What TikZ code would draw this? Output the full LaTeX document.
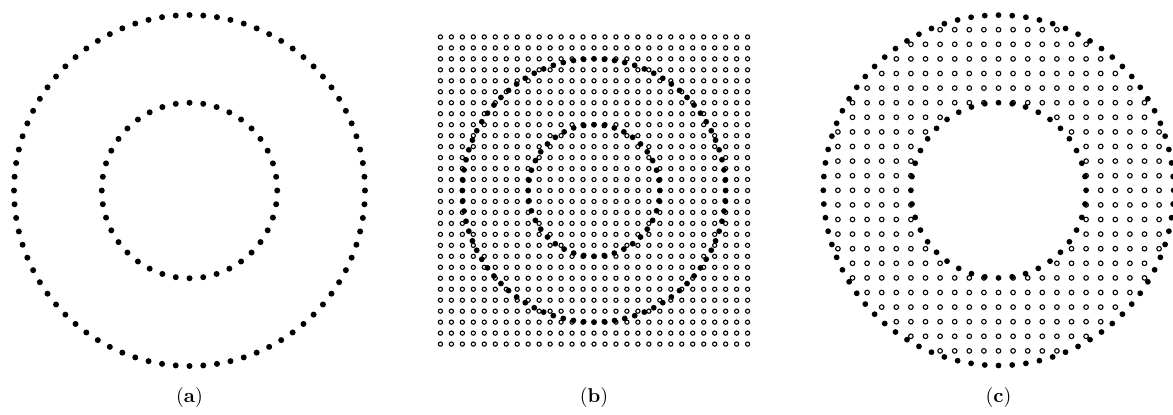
\documentclass[tikz,border=0pt]{standalone}
\usepackage{tikz}
\usetikzlibrary{calc}
\tikzset{
  ringdot/.style={fill=black},
  griddot/.style={draw=black, fill=white, line width=0.55pt}
}
\begin{document}
\begin{tikzpicture}[x=0.5pt, y=0.5pt]
        \useasboundingbox (0,0) rectangle (1173,414);
        % Centres of the three panels
        \coordinate (A) at (189.5, 223.5);
        \coordinate (B) at (594, 223.5);
        \coordinate (C) at (998.5, 223.7);
        % (a) outer and inner boundary rings
        \foreach \k in {1,...,80}
          \fill[ringdot] ($(A)+(\k*4.5:175.5)$) circle (1.5pt);
        \foreach \k in {1,...,40}
          \fill[ringdot] ($(A)+(\k*9:87.75)$) circle (1.5pt);
        % (b) background grid, h = R/12
        \foreach \i in {-14,...,14}
          \foreach \j in {-14,...,14}
            \draw[griddot] ($(B)+(\i*10.97,\j*10.97)$) circle (1.05pt);
        % (b) rings laid over the grid
        \foreach \k in {1,...,80}
          \fill[ringdot] ($(B)+(\k*4.5:131.6)$) circle (1.45pt);
        \foreach \k in {1,...,40}
          \fill[ringdot] ($(B)+(\k*9:65.8)$) circle (1.45pt);
        % (c) grid points strictly inside the annulus
        \foreach \i in {-11,...,11}
          \foreach \j in {-11,...,11}{
            \pgfmathsetmacro\dd{\i*\i+\j*\j}
            \ifdim\dd pt>36pt \ifdim\dd pt<144pt
              \draw[griddot] ($(C)+(\i*14.6,\j*14.6)$) circle (1.15pt);
            \fi\fi
          }
        % (c) boundary rings
        \foreach \k in {1,...,80}
          \fill[ringdot] ($(C)+(\k*4.5:175.2)$) circle (1.45pt);
        \foreach \k in {1,...,40}
          \fill[ringdot] ($(C)+(\k*9:87.6)$) circle (1.45pt);
        % Sub-figure labels
        \node (labA) at (189.5, 17) {(\textbf{a})};
        \node (labB) at (594, 17) {(\textbf{b})};
        \node (labC) at (998.5, 17) {(\textbf{c})};
      \end{tikzpicture}
\end{document}
